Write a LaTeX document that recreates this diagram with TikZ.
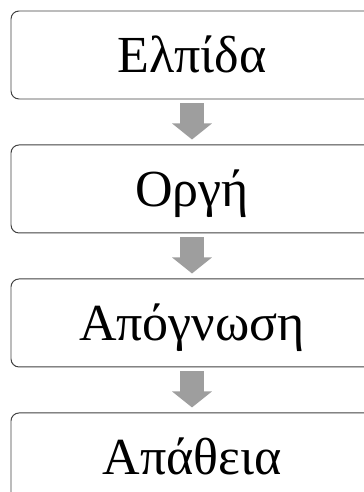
\documentclass[tikz,border=0pt]{standalone}
\usepackage{fontspec}
\setmainfont{Liberation Serif}
\usetikzlibrary{positioning,arrows.meta}

\tikzset{
  stage/.style={draw=black!75, line width=0.7pt, rounded corners=0.2cm,
    minimum width=9.05cm, minimum height=2.2cm, text height=24.5pt, text depth=0pt,
    font=\fontsize{37}{44}\selectfont},
  flow/.style={draw=black!38, line width=0.6cm,
    -{Triangle[width=0.975cm,length=0.4cm]}, shorten <=0.1cm, shorten >=0.125cm}
}

\begin{document}
\begin{tikzpicture}[node distance=1.125cm]
            \useasboundingbox (0,0) rectangle (9.1,-12.3);
            \clip (0,0) rectangle (9.1,-12.3);
            \node [stage] (hope) at (4.8,-1.375) {Ελπίδα};
            \node [stage, below=of hope] (anger) {Οργή};
            \node [stage, below=of anger] (despair) {Απόγνωση};
            \node [stage, below=of despair] (apathy) {Απάθεια};
            \draw [flow] (hope) -- (anger);
            \draw [flow] (anger) -- (despair);
            \draw [flow] (despair) -- (apathy);
        \end{tikzpicture}
\end{document}
